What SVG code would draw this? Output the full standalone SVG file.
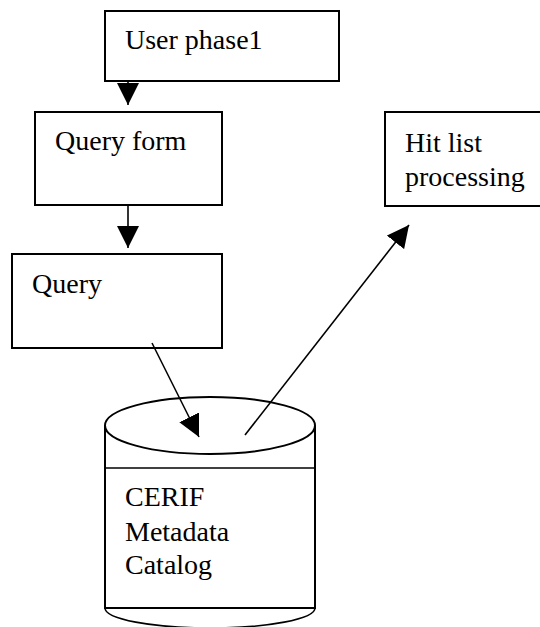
<svg xmlns="http://www.w3.org/2000/svg" width="540" height="627" viewBox="0 0 540 627">
<style>
.box{fill:#fff;stroke:#000;stroke-width:2}
.lbl{font-family:"Liberation Serif","Times New Roman",serif;font-size:28px;fill:#000}
.conn{stroke:#000;stroke-width:1.6;fill:none}
</style>
<defs>
<marker id="ah" markerUnits="userSpaceOnUse" markerWidth="22" markerHeight="22" viewBox="0 0 20 20" refX="20" refY="10" orient="auto">
<path d="M0,0 L20,10 L0,20 Z" fill="#000"/>
</marker>
</defs>
<rect width="540" height="627" fill="#fff"/>
<g id="user-phase1">
<rect class="box" x="105" y="11" width="234" height="70"/>
<text class="lbl" x="125" y="49">User phase1</text>
</g>
<g id="query-form">
<rect class="box" x="35" y="112" width="187" height="93"/>
<text class="lbl" x="55" y="150">Query form</text>
</g>
<g id="query">
<rect class="box" x="12" y="254" width="210" height="94"/>
<text class="lbl" x="32" y="293">Query</text>
</g>
<g id="hit-list">
<rect class="box" x="385" y="112" width="170" height="94"/>
<text class="lbl" x="405" y="152">Hit list</text>
<text class="lbl" x="405" y="186">processing</text>
</g>
<g id="cerif-catalog">
<path class="box" d="M105,425.5 L105,608 L315,608 L315,425.5"/>
<ellipse class="box" cx="210" cy="425.5" rx="105" ry="28.5"/>
<line class="conn" x1="105" y1="468" x2="315" y2="468" stroke-width="2"/>
<path class="conn" d="M105,608 A105,20 0 0 0 315,608" stroke-width="2"/>
<text class="lbl" x="125" y="506">CERIF</text>
<text class="lbl" x="125" y="541">Metadata</text>
<text class="lbl" x="125" y="574">Catalog</text>
</g>
<g id="connectors">
<line class="conn" x1="128" y1="82" x2="128" y2="105" marker-end="url(#ah)"/>
<line class="conn" x1="128" y1="205" x2="128" y2="248" marker-end="url(#ah)"/>
<line class="conn" x1="152" y1="343" x2="199" y2="437" marker-end="url(#ah)"/>
<line class="conn" x1="245" y1="435" x2="409" y2="225" marker-end="url(#ah)"/>
</g>
</svg>
